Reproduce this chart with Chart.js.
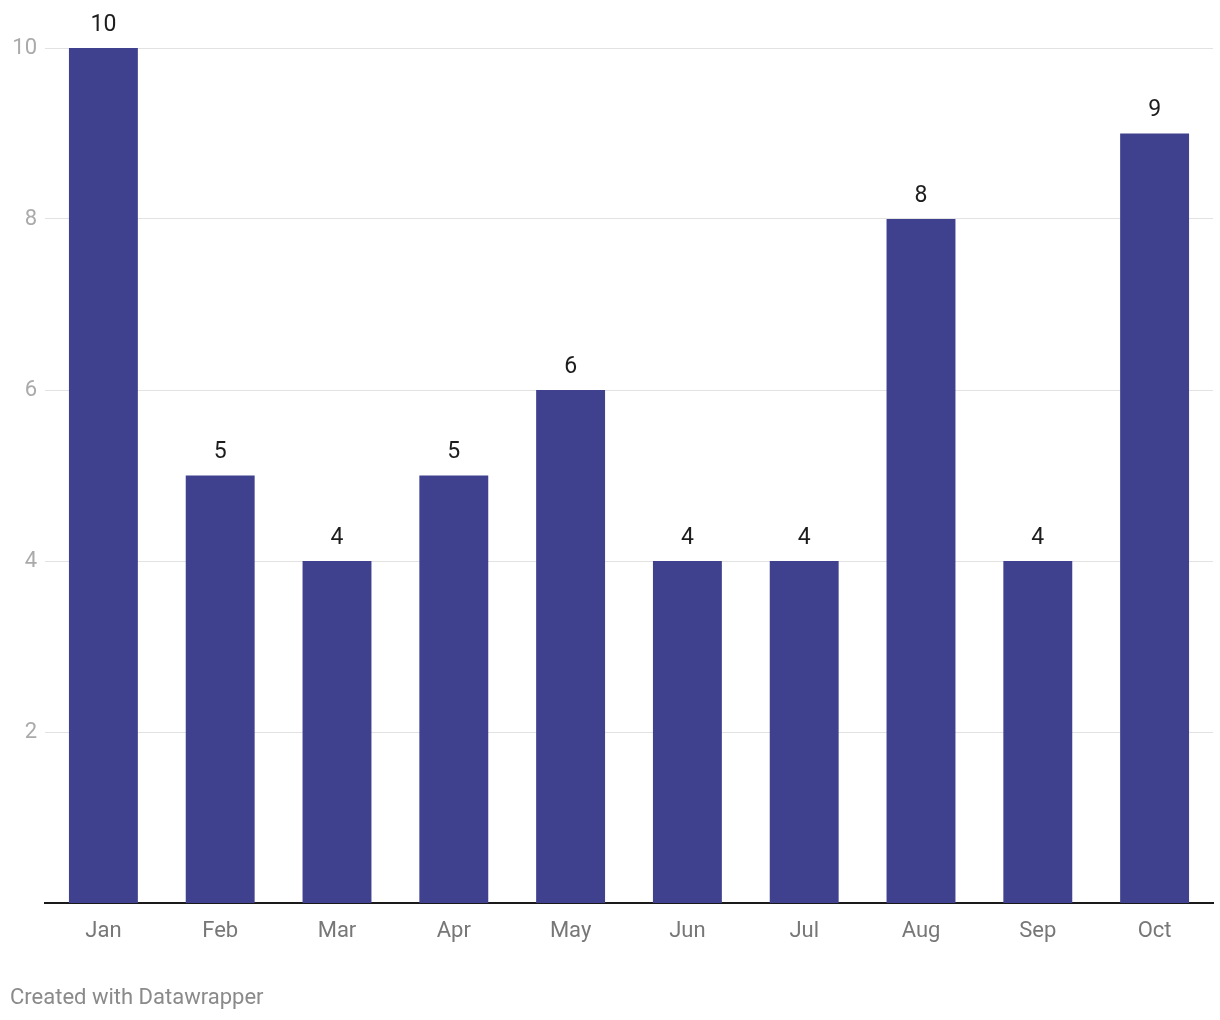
<!DOCTYPE html>
<html>
<head>
<meta charset="utf-8">
<script src="https://cdn.jsdelivr.net/npm/chart.js@4"></script>
<style>
  html, body { margin: 0; padding: 0; background: #fff; }
  .wrap { position: relative; width: 1220px; height: 1020px; }
  .credit { position: absolute; left: 10px; top: 984px; font: 22px Roboto, sans-serif; color: #8a8a8a; }
</style>
</head>
<body>
<div class="wrap">
  <canvas id="chart" width="1220" height="1020"></canvas>
  <div class="credit">Created with Datawrapper</div>
</div>
<script>
// ── Data ──────────────────────────────────────────────────────────────────────
const months = ['Jan', 'Feb', 'Mar', 'Apr', 'May', 'Jun', 'Jul', 'Aug', 'Sep', 'Oct'];
const counts = [10, 5, 4, 5, 6, 4, 4, 8, 4, 9];
const yTicks = [2, 4, 6, 8, 10];

const BAR_COLOR = '#3f418f';

// Value labels above each bar
const valueLabels = {
  id: 'valueLabels',
  afterDatasetsDraw(chart) {
    const { ctx } = chart;
    const meta = chart.getDatasetMeta(0);
    ctx.save();
    ctx.font = '23px Roboto, sans-serif';
    ctx.fillStyle = '#1d1d1d';
    ctx.textAlign = 'center';
    ctx.textBaseline = 'middle';
    meta.data.forEach((bar, i) => {
      ctx.fillText(String(counts[i]), bar.x, bar.y - 23);
    });
    ctx.restore();
  }
};

new Chart(document.getElementById('chart'), {
  type: 'bar',
  data: {
    labels: months,
    datasets: [{
      data: counts,
      backgroundColor: BAR_COLOR,
      barPercentage: 0.59,
      categoryPercentage: 1,
    }]
  },
  options: {
    responsive: false,
    animation: false,
    layout: { padding: { top: 48, right: 7, bottom: 0, left: 0 } },
    plugins: { legend: { display: false }, tooltip: { enabled: false } },
    scales: {
      x: {
        grid: { display: false, drawTicks: false },
        border: { display: true, color: '#1a1a1a', width: 2 },
        ticks: { color: '#777', padding: 15, font: { family: 'Roboto', size: 22 } },
        afterFit: s => { s.height = 117; },
      },
      y: {
        min: 0, max: 10,
        afterBuildTicks: s => { s.ticks = yTicks.map(v => ({ value: v })); },
        grid: { color: '#e2e2e2', lineWidth: 1, drawTicks: false },
        border: { display: false },
        ticks: { color: '#aaa', padding: 8, font: { family: 'Roboto', size: 22 } },
        afterFit: s => { s.width = 45; },
      }
    }
  },
  plugins: [valueLabels]
});
</script>
</body>
</html>
